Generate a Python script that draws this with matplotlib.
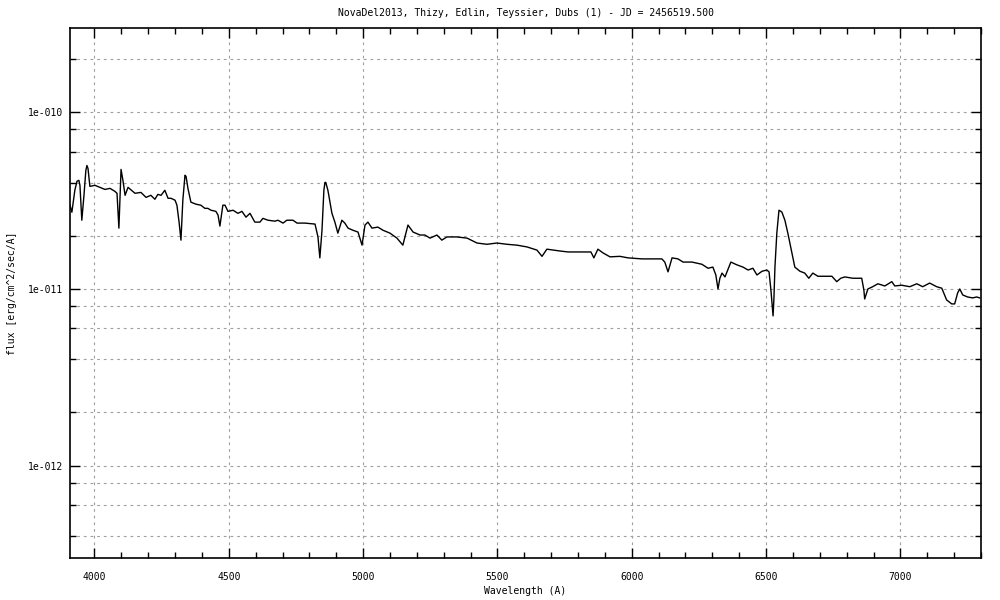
import numpy as np
import matplotlib
matplotlib.use("Agg")
import matplotlib.pyplot as plt
from matplotlib.ticker import FixedLocator, LogLocator, MultipleLocator, NullFormatter

# spectrum (wavelength in A, flux in units of 1e-11 erg/cm^2/sec/A)
wavelength = [3909, 3916, 3927, 3935, 3942, 3946, 3953, 3961, 3968, 3972, 3976, 3983,
              4002, 4020, 4039, 4058, 4076, 4084, 4091, 4099, 4106, 4114, 4125, 4151,
              4173, 4192, 4210, 4225, 4236, 4248, 4262, 4274, 4285, 4300, 4307, 4315,
              4322, 4329, 4337, 4341, 4348, 4359, 4378, 4396, 4411, 4422, 4434, 4452,
              4460, 4467, 4478, 4486, 4497, 4516, 4534, 4549, 4564, 4579, 4597, 4616,
              4627, 4646, 4672, 4683, 4702, 4716, 4739, 4754, 4783, 4821, 4832, 4839,
              4847, 4854, 4858, 4861, 4869, 4884, 4895, 4906, 4921, 4932, 4944, 4962,
              4981, 4988, 4996, 5007, 5018, 5033, 5055, 5074, 5100, 5126, 5148, 5167,
              5186, 5212, 5230, 5249, 5275, 5293, 5312, 5349, 5387, 5424, 5461, 5498,
              5536, 5573, 5610, 5647, 5666, 5684, 5707, 5733, 5763, 5814, 5848, 5859,
              5874, 5893, 5919, 5956, 5986, 6038, 6112, 6123, 6135, 6150, 6172, 6191,
              6224, 6261, 6284, 6302, 6313, 6321, 6328, 6336, 6347, 6369, 6391, 6414,
              6433, 6451, 6466, 6485, 6503, 6511, 6518, 6526, 6529, 6533, 6540, 6548,
              6555, 6559, 6570, 6581, 6596, 6607, 6626, 6644, 6659, 6674, 6693, 6726,
              6745, 6763, 6778, 6793, 6823, 6856, 6864, 6867, 6879, 6897, 6916, 6942,
              6968, 6979, 7005, 7035, 7061, 7083, 7109, 7135, 7154, 7172, 7191, 7202,
              7213, 7221, 7232, 7250, 7269, 7284, 7295]
flux_e11 = [2.98, 2.72, 3.62, 4.07, 4.12, 3.86, 2.45, 3.39, 4.69, 5.00, 4.81, 3.81,
            3.86, 3.76, 3.66, 3.71, 3.57, 3.48, 2.21, 4.75, 4.12, 3.39, 3.76, 3.48,
            3.52, 3.30, 3.39, 3.22, 3.43, 3.39, 3.62, 3.26, 3.26, 3.18, 2.98, 2.39,
            1.89, 3.18, 4.40, 4.34, 3.71, 3.10, 3.02, 2.98, 2.86, 2.86, 2.79, 2.75,
            2.62, 2.27, 2.98, 2.98, 2.75, 2.79, 2.68, 2.75, 2.55, 2.68, 2.39, 2.39,
            2.51, 2.45, 2.42, 2.45, 2.36, 2.45, 2.45, 2.36, 2.36, 2.33, 1.97, 1.50,
            2.15, 3.62, 4.01, 4.01, 3.62, 2.68, 2.39, 2.07, 2.45, 2.36, 2.21, 2.15,
            2.10, 1.94, 1.77, 2.30, 2.39, 2.21, 2.24, 2.15, 2.07, 1.94, 1.77, 2.30,
            2.10, 2.02, 2.02, 1.94, 2.02, 1.89, 1.97, 1.97, 1.94, 1.82, 1.79, 1.82,
            1.79, 1.77, 1.73, 1.66, 1.53, 1.68, 1.66, 1.64, 1.62, 1.62, 1.62, 1.50,
            1.68, 1.60, 1.52, 1.53, 1.50, 1.48, 1.48, 1.42, 1.25, 1.50, 1.48, 1.42,
            1.42, 1.38, 1.31, 1.33, 1.20, 1.00, 1.15, 1.23, 1.17, 1.42, 1.37, 1.33,
            1.28, 1.31, 1.20, 1.26, 1.28, 1.25, 0.987, 0.704, 0.867, 1.33, 2.07, 2.79,
            2.75, 2.72, 2.45, 2.07, 1.60, 1.33, 1.26, 1.23, 1.15, 1.23, 1.18, 1.18,
            1.18, 1.10, 1.15, 1.17, 1.15, 1.15, 0.987, 0.878, 1.00, 1.03, 1.07, 1.04,
            1.10, 1.04, 1.05, 1.03, 1.07, 1.03, 1.08, 1.03, 1.01, 0.867, 0.823, 0.823,
            0.949, 1.00, 0.925, 0.901, 0.890, 0.901, 0.890]

title = "NovaDel2013, Thizy, Edlin, Teyssier, Dubs (1) - JD = 2456519.500"
y_major = [1e-12, 1e-11, 1e-10]
y_labels = ["1e-012", "1e-011", "1e-010"]

plt.rcParams['font.family'] = ['DejaVu Sans Mono']
plt.rcParams['font.size'] = 7

fig = plt.figure(figsize=(10, 6), dpi=100)
ax = fig.add_axes([0.07, 0.07, 0.911, 0.8833])

flux = np.array(flux_e11) * 1e-11
ax.plot(wavelength, flux, color='black', linewidth=1.0)

ax.set_yscale('log')
ax.set_xlim(3909, 7300)
ax.set_ylim(3e-13, 3e-10)

ax.xaxis.set_major_locator(MultipleLocator(500))
ax.xaxis.set_minor_locator(MultipleLocator(100))
ax.yaxis.set_major_locator(FixedLocator(y_major))
ax.set_yticklabels(y_labels)
ax.yaxis.set_minor_locator(LogLocator(base=10, subs=[2, 4, 6, 8]))
ax.yaxis.set_minor_formatter(NullFormatter())

ax.tick_params(which='both', direction='in', top=True, right=True, width=1, colors='black')
ax.tick_params(which='major', length=7)
ax.tick_params(which='minor', length=4)
ax.tick_params(axis='x', which='major', pad=10)
ax.tick_params(axis='y', which='major', pad=5)

grid_style = dict(color='#a0a0a0', linestyle=(0, (2.5, 3.5)), linewidth=0.8)
ax.grid(True, which='major', axis='x', **grid_style)
ax.grid(True, which='both', axis='y', **grid_style)

for s in ax.spines.values():
    s.set_linewidth(1.2)

ax.set_title(title, fontsize=7, pad=9)
ax.set_xlabel('Wavelength (A)', labelpad=3)
ax.set_ylabel('flux [erg/cm^2/sec/A]', labelpad=8)

fig.savefig('out.png', dpi=100)
